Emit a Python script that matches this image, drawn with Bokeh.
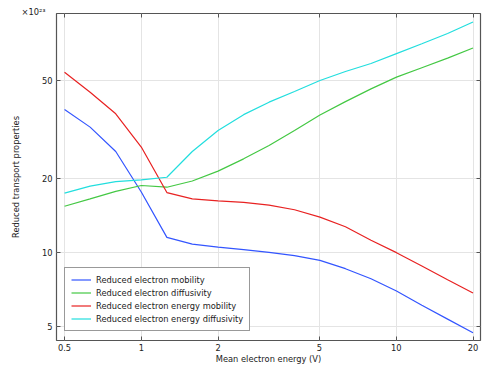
from bokeh.plotting import figure
from bokeh.models import (FixedTicker, LogAxis, Legend, LegendItem)
from bokeh.embed import file_html
from bokeh.resources import INLINE

# Mean electron energy (V)
energy = [0.5, 0.63, 0.794, 1.0, 1.26, 1.585, 2.0, 2.52, 3.17, 3.99, 5.02,
          6.32, 7.96, 10.02, 12.6, 15.9, 20.0]

# Reduced transport properties, in units of 1e23
mobility = [38.1, 32.3, 25.7, 17.6, 11.5, 10.8, 10.5, 10.25, 10.0, 9.69, 9.27,
            8.58, 7.81, 6.96, 6.09, 5.35, 4.71]
diffusivity = [15.4, 16.5, 17.7, 18.7, 18.4, 19.5, 21.4, 24.0, 27.2, 31.3, 36.2,
               41.0, 46.2, 51.6, 56.3, 61.6, 67.8]
energy_mobility = [54.0, 44.8, 36.6, 26.8, 17.5, 16.5, 16.2, 15.96, 15.56, 14.9,
                   13.9, 12.7, 11.2, 9.97, 8.8, 7.74, 6.83]
energy_diffusivity = [17.4, 18.6, 19.4, 19.7, 20.2, 25.7, 31.3, 36.3, 40.8, 45.1,
                      50.0, 54.4, 58.6, 64.3, 70.5, 77.6, 86.5]

x_ticks = [0.5, 1, 2, 5, 10, 20]
x_tick_labels = ["0.5", "1", "2", "5", "10", "20"]
y_ticks = [5, 10, 20, 50]
y_tick_labels = ["5", "10", "20", "50"]
y_scale_note = "×10²³"

series_names = ["Reduced electron mobility", "Reduced electron diffusivity",
                "Reduced electron energy mobility", "Reduced electron energy diffusivity"]
series_colors = ["#3355ff", "#44c844", "#e82222", "#22dede"]

FONT = "DejaVu Sans"
FS = "8.3px"
AX = "#555555"

p = figure(width=498, height=378, x_axis_type="log", y_axis_type="log",
           x_range=(0.465, 21.4), y_range=(4.38, 93.6),
           output_backend="svg", toolbar_location=None,
           min_border_left=56, min_border_right=18, min_border_top=13,
           min_border_bottom=38)
p.outline_line_color = AX
p.outline_line_width = 1.2
p.background_fill_color = "white"
p.border_fill_color = "white"

# scale-factor note at the top-left, outside the frame
p.title.text = y_scale_note
p.title.align = "left"
p.title.offset = -35
p.title.standoff = -7
p.title.text_font = FONT
p.title.text_font_size = FS
p.title.text_font_style = "normal"
p.title.text_color = "#222222"
p.title.vertical_align = "bottom"

xt = FixedTicker(ticks=x_ticks, minor_ticks=[])
yt = FixedTicker(ticks=y_ticks, minor_ticks=[])

def style_axis(ax, ticker, labels, ticks, show):
    ax.ticker = ticker
    ax.axis_line_color = None
    ax.major_tick_in = 4
    ax.major_tick_out = 0
    ax.major_tick_line_color = AX
    ax.minor_tick_line_color = None
    ax.major_label_text_font = FONT
    ax.major_label_text_font_size = FS
    ax.major_label_text_color = "#222222"
    if show:
        ax.major_label_overrides = {t: l for t, l in zip(ticks, labels)}
    else:
        ax.major_label_overrides = {t: "" for t in ticks}
        ax.major_label_standoff = 0
        ax.major_label_text_font_size = "1px"

xa = p.xaxis[0]
ya = p.yaxis[0]
style_axis(xa, xt, x_tick_labels, x_ticks, True)
style_axis(ya, yt, y_tick_labels, y_ticks, True)
xa.major_label_standoff = 3
ya.major_label_standoff = 4
xa.axis_label = "Mean electron energy (V)"
ya.axis_label = "Reduced transport properties"
for a in (xa, ya):
    a.axis_label_text_font = FONT
    a.axis_label_text_font_size = FS
    a.axis_label_text_font_style = "normal"
    a.axis_label_text_color = "#222222"
xa.axis_label_standoff = 0
ya.axis_label_standoff = 18

ra = LogAxis()
style_axis(ra, yt, y_tick_labels, y_ticks, False)
p.add_layout(ra, "right")
ta = LogAxis()
style_axis(ta, xt, x_tick_labels, x_ticks, False)
p.add_layout(ta, "above")

p.xgrid.ticker = xt
p.ygrid.ticker = yt
for g in (p.xgrid, p.ygrid):
    g.grid_line_color = "#e4e4e4"
    g.grid_line_width = 1

items = []
for vals, name, col in zip([mobility, diffusivity, energy_mobility, energy_diffusivity],
                           series_names, series_colors):
    r = p.line(energy, vals, line_color=col, line_width=1.2)
    items.append(LegendItem(label=name, renderers=[r]))

leg = Legend(items=items, location=(8, 9))
leg.label_text_font = FONT
leg.label_text_font_size = FS
leg.label_text_color = "#222222"
leg.label_height = 11
leg.glyph_height = 11
leg.glyph_width = 20
leg.label_standoff = 5
leg.spacing = 2
leg.padding = 6
leg.margin = 0
leg.border_line_color = "#333333"
leg.border_line_width = 1.2
leg.background_fill_alpha = 1
p.add_layout(leg, "center")

open("out.html", "w").write(file_html(p, INLINE))
